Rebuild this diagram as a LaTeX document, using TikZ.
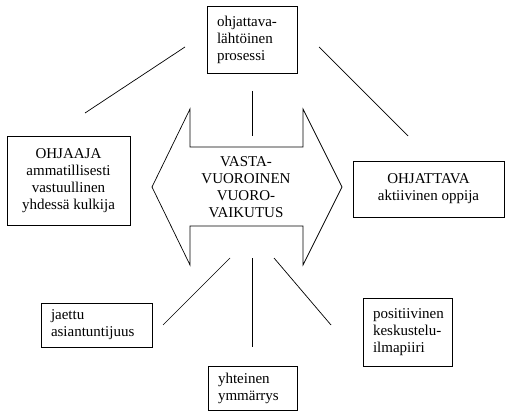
\documentclass[tikz,border=0pt]{standalone}
\usepackage{fontspec}
\setmainfont{Liberation Serif}
\begin{document}
\begin{tikzpicture}[x=1pt,y=-1pt,line width=0.7pt,
    txt/.style={font=\fontsize{15}{17}\selectfont},
    lbox/.style={txt,draw,rectangle,align=left,inner xsep=10pt,inner ysep=0pt},
    cbox/.style={txt,draw,rectangle,align=center,inner sep=0pt}]
  \useasboundingbox (0,0) rectangle (505,411);

  % laatikot
  \node[lbox,text width=70pt,minimum height=67pt] (prosessi) at (252,39.5)
       {ohjattava-\\l\"aht\"oinen\\prosessi};
  \node[cbox,minimum width=123pt,minimum height=89pt] (ohjaaja) at (68.5,180.5)
       {OHJAAJA\\ammatillisesti\\vastuullinen\\yhdess\"a kulkija};
  \node[cbox,minimum width=151pt,minimum height=56pt] (ohjattava) at (428.5,189)
       {OHJATTAVA\\aktiivinen oppija};
  \node[lbox,text width=91pt,minimum height=44pt] (jaettu) at (96.5,325)
       {jaettu\\asiantuntijuus};
  \node[lbox,text width=69pt,minimum height=44pt] (yhteinen) at (252.5,388)
       {yhteinen\\ymm\"arrys};
  \node[lbox,text width=69pt,minimum height=68pt] (ilmapiiri) at (407.5,332)
       {positiivinen\\keskustelu-\\ilmapiiri};

  % kaksisuuntainen nuoli
  \draw (152,187) -- (190,109) -- (190,147) -- (303,147) -- (303,109)
        -- (342,187) -- (303,265) -- (303,226) -- (190,226) -- (190,265) -- cycle;
  \node[txt,align=center] (vuoro) at (246,187) {VASTA-\\VUOROINEN\\VUORO-\\VAIKUTUS};

  % viivat
  \coordinate (a1) at (185,47);  \coordinate (a2) at (85,113);
  \coordinate (b1) at (319,47);  \coordinate (b2) at (408,136);
  \coordinate (c1) at (252,91);  \coordinate (c2) at (252,136);
  \coordinate (d1) at (230,258); \coordinate (d2) at (163,325);
  \coordinate (e1) at (252,258); \coordinate (e2) at (252,347);
  \coordinate (f1) at (274,258); \coordinate (f2) at (331,325);
  \foreach \p in {a,b,c,d,e,f}
    \draw (\p1) -- (\p2);
\end{tikzpicture}
\end{document}
